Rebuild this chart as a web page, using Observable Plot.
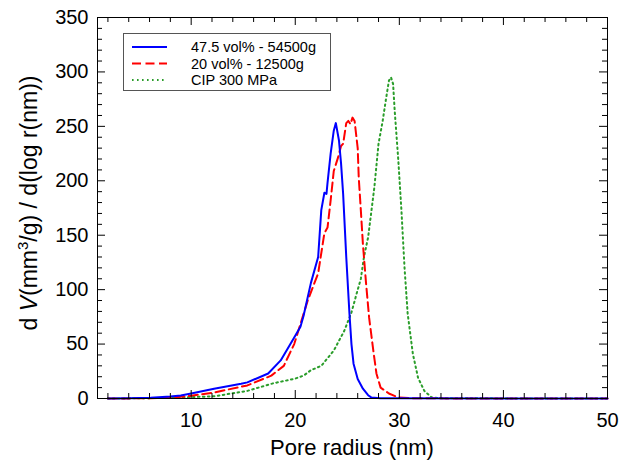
<!DOCTYPE html>
<html><head><meta charset="utf-8">
<script src="https://cdn.jsdelivr.net/npm/d3@7"></script>
<script src="https://cdn.jsdelivr.net/npm/@observablehq/plot@0.6"></script>
<style>body{margin:0;background:#fff} svg{display:block}</style>
</head><body><div id="chart"></div>
<script>
const seriesNames = ["47.5 vol% - 54500g", "20 vol% - 12500g", "CIP 300 MPa"];
const seriesColors = ["#0000ff", "#ff0000", "#2a9d2a"];

const blueX = [2, 4, 6.1, 8, 9, 10, 12.2, 14.8, 15.4, 17.4, 18.6, 19.9, 20.5, 20.8, 21.5, 22.2, 22.5, 22.8, 23.0, 23.1, 23.4, 23.7, 23.9, 24.2, 24.4, 24.6, 24.9, 25.2, 25.4, 25.6, 26.0, 26.5, 27.0, 27.3, 28.2, 30, 40, 50];
const blueY = [0, 0.2, 0.6, 1.8, 2.8, 4.6, 9, 13.5, 14.8, 23, 35, 56, 66, 76, 106, 130, 173, 189, 188, 198, 225, 246, 253, 237, 216, 188, 130, 79, 50, 32, 18, 9, 3, 1, 0.3, 0.2, 0.1, 0.1];

const redX = [2, 4, 6.1, 8, 9, 10, 12.2, 15.4, 17.7, 18.9, 19.9, 21.2, 22.2, 22.8, 23.1, 23.4, 23.7, 24.1, 24.4, 24.6, 24.9, 25.1, 25.3, 25.5, 25.7, 26.0, 26.1, 26.3, 26.5, 26.8, 27.1, 27.5, 27.8, 28.2, 29.0, 29.9, 31.1, 35, 50];
const redY = [0, 0.1, 0.3, 1, 1.5, 2.5, 5.5, 12, 21, 30, 50, 90, 115, 152, 157, 182, 209, 221, 232, 234, 253, 255, 252, 258, 255, 230, 203, 173, 142, 106, 74, 44, 23, 10, 4.6, 1, 0.3, 0.1, 0.1];

const greenX = [2, 4, 6.1, 9, 12.2, 15.4, 17.9, 19.9, 20.8, 21.5, 22.5, 23.7, 24.7, 25.4, 25.8, 26.3, 26.6, 27.0, 27.6, 28.0, 28.4, 28.7, 29.0, 29.2, 29.4, 29.55, 29.9, 30.2, 30.5, 30.8, 31.3, 31.8, 32.4, 33.1, 34.0, 40, 50];
const greenY = [0, 0.1, 0.3, 1, 2, 7, 14, 18, 21, 26, 30, 44, 62, 79, 93, 110, 130, 148, 194, 234, 255, 274, 292, 295, 289, 265, 219, 173, 120, 78, 41, 19, 7, 1, 0.2, 0.1, 0.1];

const xMajorTicks = [10, 20, 30, 40, 50];
const xMinorTicks = [2, 4, 6, 8, 12, 14, 16, 18, 22, 24, 26, 28, 32, 34, 36, 38, 42, 44, 46, 48];
const yMajorTicks = [0, 50, 100, 150, 200, 250, 300, 350];
const yMinorTicks = [10, 20, 30, 40, 60, 70, 80, 90, 110, 120, 130, 140, 160, 170, 180, 190, 210, 220, 230, 240, 260, 270, 280, 290, 310, 320, 330, 340];

const xLabel = "Pore radius (nm)";

const toRows = (xs, ys) => xs.map((x, i) => ({x, y: ys[i]}));
const blue = toRows(blueX, blueY);
const red = toRows(redX, redY);
const green = toRows(greenX, greenY);

const FONT = "'Liberation Sans', Arial, sans-serif";
const W = 619, H = 464, ML = 97, MR = 12, MT = 17, MB = 66;
const FW = W - ML - MR, FH = H - MT - MB; // frame size in px

// inward tick marks drawn as Plot rules, trimmed by pixel insets
const tickRulesX = (vals, len) => [
  Plot.ruleX(vals, {x: d => d, insetTop: FH - len, stroke: "#000", strokeWidth: 1}),
  Plot.ruleX(vals, {x: d => d, insetBottom: FH - len, stroke: "#000", strokeWidth: 1})
];
const tickRulesY = (vals, len) => [
  Plot.ruleY(vals, {y: d => d, insetRight: FW - len, stroke: "#000", strokeWidth: 1}),
  Plot.ruleY(vals, {y: d => d, insetLeft: FW - len, stroke: "#000", strokeWidth: 1})
];

const chart = Plot.plot({
  width: W, height: H,
  marginLeft: ML, marginRight: MR, marginTop: MT, marginBottom: MB,
  x: {domain: [1, 50]},
  y: {domain: [0, 350]},
  style: {fontFamily: FONT, background: "#fff", color: "#000"},
  marks: [
    Plot.line(green, {x: "x", y: "y", stroke: seriesColors[2], strokeWidth: 2, strokeDasharray: "1.6,3.4"}),
    Plot.line(red, {x: "x", y: "y", stroke: seriesColors[1], strokeWidth: 2, strokeDasharray: "9,4.5"}),
    Plot.line(blue, {x: "x", y: "y", stroke: seriesColors[0], strokeWidth: 2}),
    ...tickRulesX(xMinorTicks, 5), ...tickRulesX(xMajorTicks, 8),
    ...tickRulesY(yMinorTicks, 5), ...tickRulesY(yMajorTicks, 8),
    Plot.axisX(xMajorTicks, {anchor: "bottom", tickSize: 0, tickPadding: 14, fontSize: 20, label: null}),
    Plot.axisY(yMajorTicks, {anchor: "left", tickSize: 0, tickPadding: 9, fontSize: 20, label: null}),
    Plot.frame({stroke: "#000", strokeWidth: 1})
  ]
});
document.getElementById("chart").appendChild(chart);

const svg = d3.select(chart);
// x axis title
svg.append("text").attr("x", (ML + W - MR) / 2).attr("y", 455)
  .attr("text-anchor", "middle").attr("font-size", 22).attr("font-family", FONT).text(xLabel);
// y axis title
const yt = svg.append("text").attr("transform", `translate(37,203) rotate(-90)`)
  .attr("text-anchor", "middle").attr("font-size", 23).attr("font-family", FONT);
yt.append("tspan").text("d ");
yt.append("tspan").attr("font-style", "italic").text("V");
yt.append("tspan").text("(mm");
yt.append("tspan").attr("font-size", 15).attr("dy", -9).text("3");
yt.append("tspan").attr("dy", 9).text("/g) / d(log r(nm))");

// legend
const lg = svg.append("g");
lg.append("rect").attr("x", 123.5).attr("y", 33.5).attr("width", 207).attr("height", 57)
  .attr("fill", "#fff").attr("stroke", "#555").attr("stroke-width", 1);
const dashes = [null, "9,4.5", "1.6,3.4"];
seriesNames.forEach((name, i) => {
  const y = 47 + i * 16.5;
  lg.append("line").attr("x1", 132).attr("x2", 167).attr("y1", y).attr("y2", y)
    .attr("stroke", seriesColors[i]).attr("stroke-width", 2)
    .attr("stroke-dasharray", dashes[i]);
  lg.append("text").attr("x", 191).attr("y", y).attr("dy", "0.35em")
    .attr("text-anchor", "start")
    .attr("font-size", 14.5).attr("font-family", FONT).text(name);
});
</script></body></html>
